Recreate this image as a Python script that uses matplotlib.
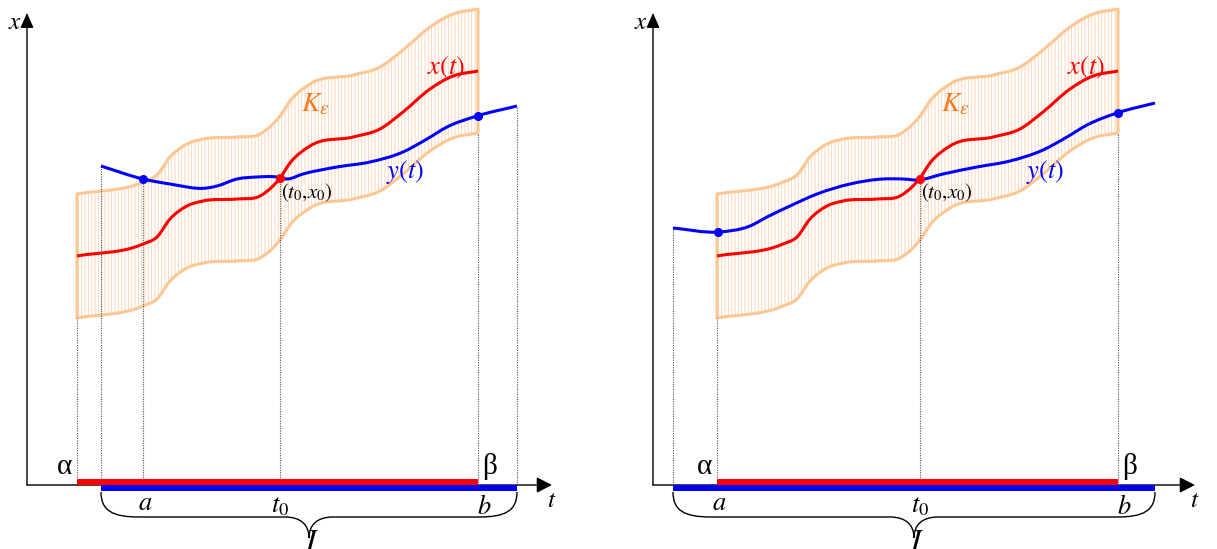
import numpy as np
import matplotlib
matplotlib.use("Agg")
import matplotlib.pyplot as plt
from matplotlib.path import Path
from matplotlib.patches import PathPatch

plt.rcParams["mathtext.fontset"] = "stix"
plt.rcParams["hatch.linewidth"] = 0.6

# ---- data -------------------------------------------------------------
# solution x(t), sampled as offsets s = t - alpha along its interval [alpha, beta]
red_s = [0, 66, 80, 93, 110, 126, 160, 183, 196, 203, 213, 233, 276, 303, 326, 353, 376, 401]
red_x = [229, 241, 248, 266, 279, 284, 286, 289, 299, 307, 322, 339, 348, 356, 373, 396, 409, 414]
eps = 62  # half-width of the tube K_eps around x(t)

# left panel: y(t) leaves the tube at a
left_alpha = 50
left_t0, left_x0 = 253, 307
left_a, left_b = 116, 451
left_blue_t = [74, 116, 143, 180, 190, 210, 230, 250, 260, 276, 310, 343, 376, 400, 420, 450, 490]
left_blue_x = [319, 306, 301, 297, 299, 306, 308, 308, 306, 311, 318, 323, 333, 346, 358, 369, 379]
left_dot_t = [116, 451]
left_dot_x = [306, 369]

# right panel: y(t) starts before alpha
right_alpha = 64
right_t0, right_x0 = 267, 306
right_a, right_b = 64, 465
right_blue_t = [20, 65, 97, 114, 137, 164, 197, 230, 250, 265, 290, 324, 357, 390, 414, 434, 464, 502]
right_blue_x = [257, 253, 259, 268, 279, 291, 301, 306, 306, 305, 311, 318, 324, 335, 348, 360, 372, 382]
right_dot_t = [65, 465]
right_dot_x = [253, 372]

# ---- styling ----------------------------------------------------------
RED = "#ff0000"
BLUE = "#0000ff"
BAND = "#fcc793"
HATCH = "#fad0ac"
KCOL = "#f57a1e"
SERIF = "Liberation Serif"


def smooth_path(t, x):
    """Cubic Hermite curve x(t) through the samples, as Bezier segments."""
    t = np.asarray(t, float)
    x = np.asarray(x, float)
    h = np.diff(t)
    d = np.diff(x) / h
    m = np.empty_like(x)
    m[0], m[-1] = d[0], d[-1]
    m[1:-1] = (d[1:] * h[:-1] + d[:-1] * h[1:]) / (h[:-1] + h[1:])
    verts = [(t[0], x[0])]
    codes = [Path.MOVETO]
    for i in range(len(t) - 1):
        k = (t[i + 1] - t[i]) / 3.0
        verts += [(t[i] + k, x[i] + m[i] * k),
                  (t[i + 1] - k, x[i + 1] - m[i + 1] * k),
                  (t[i + 1], x[i + 1])]
        codes += [Path.CURVE4] * 3
    return verts, codes


def band_path(t, lo, hi):
    v1, c1 = smooth_path(t, hi)
    v2, c2 = smooth_path(t, lo)
    # walk the lower edge backwards
    v2r = v2[::-1]
    c2r = [Path.LINETO] + [Path.CURVE4] * (len(v2r) - 1)
    verts = v1 + v2r + [v1[0]]
    codes = c1 + c2r + [Path.CLOSEPOLY]
    return Path(verts, codes)


def brace_path(x0, x1, y_top=-7, y_flat=-32, y_tip=-53):
    xm = 0.5 * (x0 + x1)
    verts = [
        (x0, y_top), (x0, y_flat + 6), (x0 + 12, y_flat), (x0 + 38, y_flat),
        (xm - 24, y_flat),
        (xm - 8, y_flat), (xm, y_flat - 8), (xm, y_tip),
        (xm, y_flat - 8), (xm + 8, y_flat), (xm + 24, y_flat),
        (x1 - 38, y_flat),
        (x1 - 12, y_flat), (x1, y_flat + 6), (x1, y_top),
    ]
    codes = [Path.MOVETO, Path.CURVE4, Path.CURVE4, Path.CURVE4,
             Path.LINETO,
             Path.CURVE4, Path.CURVE4, Path.CURVE4,
             Path.CURVE4, Path.CURVE4, Path.CURVE4,
             Path.LINETO,
             Path.CURVE4, Path.CURVE4, Path.CURVE4]
    return Path(verts, codes)


def draw_panel(ax, alpha, t0, x0, a, b, blue_t, blue_x, dot_t, dot_x,
               drops, t_tip, brace_ends):
    t = alpha + np.asarray(red_s, float)
    x = np.asarray(red_x, float)
    lo, hi = x - eps, x + eps
    beta = t[-1]

    # tube K_eps: hatching then outline
    band = band_path(t, lo, hi)
    ax.add_patch(PathPatch(band, facecolor="none", edgecolor=HATCH, lw=0,
                           hatch="|||||", zorder=1))
    ax.add_patch(PathPatch(band, facecolor="none", edgecolor=BAND, lw=2.2,
                           joinstyle="round", zorder=2))

    # dotted projections onto the t axis
    ax.vlines([d[0] for d in drops], 0, [d[1] for d in drops], colors="#555555",
              lw=0.8, linestyles=(0, (1, 1.2)), zorder=3)

    # solutions
    v, c = smooth_path(t, x)
    ax.add_patch(PathPatch(Path(v, c), facecolor="none", edgecolor=RED, lw=2.2,
                           capstyle="butt", zorder=5))
    v, c = smooth_path(blue_t, blue_x)
    ax.add_patch(PathPatch(Path(v, c), facecolor="none", edgecolor=BLUE, lw=2.2,
                           capstyle="butt", zorder=5))
    ax.plot(dot_t, dot_x, "o", color=BLUE, ms=5.5, zorder=6)
    ax.plot([t0], [x0], "o", color=RED, ms=5.5, zorder=6)

    # axes with arrow heads
    ax.annotate("", xy=(0, 472), xytext=(0, 0),
                arrowprops=dict(arrowstyle="-|>,head_length=0.45,head_width=0.2",
                                mutation_scale=20, color="black", lw=1.0,
                                shrinkA=0, shrinkB=0))
    ax.annotate("", xy=(t_tip, 0), xytext=(0, 0),
                arrowprops=dict(arrowstyle="-|>,head_length=0.47,head_width=0.24",
                                mutation_scale=20, color="black", lw=1.0,
                                shrinkA=0, shrinkB=0))

    # existence intervals on the t axis
    ax.plot([alpha, beta], [3, 3], color=RED, lw=4.3, solid_capstyle="butt", zorder=7)
    ax.plot([blue_t[0], blue_t[-1]], [-3, -3], color=BLUE, lw=4.3,
            solid_capstyle="butt", zorder=7)

    # brace for the interval I
    ax.add_patch(PathPatch(brace_path(*brace_ends), facecolor="none",
                           edgecolor="black", lw=1.0, zorder=4))

    # labels
    ax.text(-12, 463, "$x$", fontsize=18, ha="center", va="center")
    ax.text(t_tip, -15, "$t$", fontsize=18, ha="center", va="center")
    ax.text(alpha - 12, 18, "α", fontsize=21, family=SERIF, ha="center", va="center")
    ax.text(beta + 12, 19, "β", fontsize=21, family=SERIF, ha="center", va="center")
    ax.text(a + 2, -18, "$a$", fontsize=19, ha="center", va="center")
    ax.text(t0, -20, r"$t_{\mathit{0}}$", fontsize=19, ha="center", va="center")
    ax.text(b + 6, -22, "$b$", fontsize=19, ha="center", va="center")
    ax.text(0.5 * (brace_ends[0] + brace_ends[1]) + 3, -43, "$I$", fontsize=22,
            ha="center", va="top", clip_on=False)
    ax.text(alpha + 238, 382, r"$K_{\varepsilon}$", fontsize=20, color=KCOL,
            ha="center", va="center")
    ax.text(alpha + 369, 417, "$x(t)$", fontsize=19, color=RED, ha="center", va="center")
    ax.text(alpha + 328, 313, "$y(t)$", fontsize=19, color=BLUE, ha="center", va="center")
    ax.text(t0 + 1, 292, r"$(t_{\mathit{0}}{,}x_{\mathit{0}})$", fontsize=15,
            color="black", ha="left", va="center")


fig = plt.figure(figsize=(12.17, 5.49), dpi=100)
W, H = 1217.0, 549.0
half = W / 2

axL = fig.add_axes([0, 0, half / W, 1])
axL.set_xlim(-27, half - 27)
axL.set_ylim(-(H - 485), 485)
axL.axis("off")

axR = fig.add_axes([half / W, 0, half / W, 1])
axR.set_xlim(half - 653, W - 653)
axR.set_ylim(-(H - 485), 485)
axR.axis("off")

left_beta = left_alpha + red_s[-1]
right_beta = right_alpha + red_s[-1]

draw_panel(axL, left_alpha, left_t0, left_x0, left_a, left_b,
           left_blue_t, left_blue_x, left_dot_t, left_dot_x,
           drops=[(left_alpha, red_x[0] - eps), (left_blue_t[0], left_blue_x[0]),
                  (left_a, left_dot_x[0]), (left_t0, left_x0),
                  (left_beta, red_x[-1] - eps), (left_blue_t[-1], left_blue_x[-1])],
           t_tip=525, brace_ends=(left_blue_t[0], left_blue_t[-1]))

draw_panel(axR, right_alpha, right_t0, right_x0, right_a, right_b,
           right_blue_t, right_blue_x, right_dot_t, right_dot_x,
           drops=[(right_blue_t[0], right_blue_x[0]), (right_alpha, red_x[0] - eps),
                  (right_t0, right_x0), (right_beta, red_x[-1] - eps)],
           t_tip=542, brace_ends=(right_blue_t[0], right_blue_t[-1]))

fig.savefig("out.png", dpi=100)
